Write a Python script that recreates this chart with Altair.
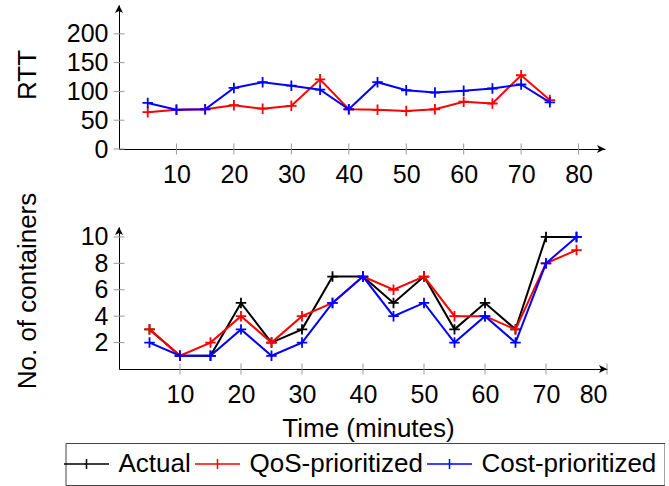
import altair as alt
import pandas as pd

# ---- data ----
time = [5, 10, 15, 20, 25, 30, 35, 40, 45, 50, 55, 60, 65, 70, 75]
rtt_qos = [64, 68, 69, 76, 70, 75, 121, 69, 68, 66, 69, 82, 79, 128, 85]
rtt_cost = [80, 68, 69, 106, 116, 110, 103, 69, 116, 102, 98, 101, 105, 112, 81]
cont_actual = [3, 1, 1, 5, 2, 3, 7, 7, 5, 7, 3, 5, 3, 10, 10]
cont_qos = [3, 1, 2, 4, 2, 4, 5, 7, 6, 7, 4, 4, 3, 8, 9]
cont_cost = [2, 1, 1, 3, 1, 2, 5, 7, 4, 5, 2, 4, 2, 8, 10]

series = ["Actual", "QoS-prioritized", "Cost-prioritized"]
colors = ["#000000", "#ff0000", "#0000ff"]
x_ticks = [10, 20, 30, 40, 50, 60, 70, 80]
rtt_ticks = [0, 50, 100, 150, 200]
cont_ticks = [2, 4, 6, 8, 10]

FONT = "Liberation Sans"
PLUS = "M-1,0L1,0M0,-1L0,1"
LEG_SYM = "M-4.5,0L4.5,0M0,-1L0,1"
VTICK = "M0,-1L0,1"
HTICK = "M-1,0L1,0"
ARROW_R = "M0,0L-2,-1L-1.5,0L-2,1Z"
ARROW_U = "M0,0L-1,2L0,1.5L1,2Z"

color_scale = alt.Scale(domain=series, range=colors)


def long_df(cols):
    rows = []
    for name, vals in cols:
        for t, v in zip(time, vals):
            rows.append({"t": t, "value": v, "series": name})
    return pd.DataFrame(rows)


def panel(cols, xmax, ymax, yticks, width, height, ytitle, title_y, xtitle):
    xs = alt.Scale(domain=[0, xmax], nice=False, zero=True)
    ys = alt.Scale(domain=[0, ymax], nice=False, zero=True)
    if xtitle:
        xaxis = alt.Axis(values=x_ticks, title=xtitle, labelPadding=13,
                         titleX=249, titleY=67, titleBaseline="alphabetic",
                         titleAlign="center")
    else:
        xaxis = alt.Axis(values=x_ticks, title=None, labelPadding=13)
    yaxis = alt.Axis(values=yticks, title=ytitle, labelPadding=11,
                     titleX=-84, titleY=title_y, titleBaseline="alphabetic",
                     titleAlign="center")
    X = alt.X("t:Q", scale=xs, axis=xaxis)
    Y = alt.Y("value:Q", scale=ys, axis=yaxis)

    df = long_df(cols)
    layers = []
    # crossing tick marks
    xt = pd.DataFrame({"t": x_ticks, "value": [0] * len(x_ticks)})
    yt = pd.DataFrame({"t": [0] * len(yticks), "value": yticks})
    layers.append(alt.Chart(xt).mark_point(shape=VTICK, size=121, filled=False,
                                           stroke="#999999", strokeWidth=1, opacity=1)
                  .encode(x=X, y=Y))
    layers.append(alt.Chart(yt).mark_point(shape=HTICK, size=121, filled=False,
                                           stroke="#999999", strokeWidth=1, opacity=1)
                  .encode(x=X, y=Y))
    for name, _ in cols:
        layers.append(
            alt.Chart(df).transform_filter(alt.datum.series == name)
            .mark_line(strokeWidth=2, point=alt.OverlayMarkDef(
                shape=PLUS, size=110, filled=False, strokeWidth=1.8, opacity=1))
            .encode(x=X, y=Y,
                    color=alt.Color("series:N", scale=color_scale,
                                    legend=alt.Legend(title=None)))
        )
    # axis arrow heads
    ar = pd.DataFrame({"t": [xmax], "value": [0]})
    au = pd.DataFrame({"t": [0], "value": [ymax]})
    layers.append(alt.Chart(ar).mark_point(shape=ARROW_R, size=64, filled=True,
                                           color="black", opacity=1).encode(x=X, y=Y))
    layers.append(alt.Chart(au).mark_point(shape=ARROW_U, size=64, filled=True,
                                           color="black", opacity=1).encode(x=X, y=Y))
    return alt.layer(*layers).properties(width=width, height=height)


top = panel([("QoS-prioritized", rtt_qos), ("Cost-prioritized", rtt_cost)],
            84.6, 250, rtt_ticks, 486, 144, "RTT", 69.5, None)
bottom = panel([("Actual", cont_actual), ("QoS-prioritized", cont_qos),
                ("Cost-prioritized", cont_cost)],
               80, 10.75, cont_ticks, 488, 142, "No. of containers", 63.5,
               "Time (minutes)")

chart = (
    alt.vconcat(top, bottom, spacing=78, bounds="flush")
    .properties(padding={"left": 13, "top": 5, "right": 0, "bottom": 0})
    .configure_view(stroke=None)
    .configure_axis(grid=False, ticks=False, tickSize=0, domainColor="black",
                    domainWidth=1, labelFont=FONT, labelFontSize=25,
                    labelColor="black", titleFont=FONT, titleFontSize=26,
                    titleFontWeight="normal", titleColor="black")
    .configure_legend(orient="none", legendX=-53.5, legendY=438,
                      direction="horizontal", strokeColor="#444444",
                      padding=8, labelFont=FONT, labelFontSize=26,
                      labelColor="black", labelOffset=19, columnPadding=0,
                      labelLimit=400, symbolType=LEG_SYM, symbolSize=100,
                      symbolStrokeWidth=1.5, symbolFillColor="transparent")
)

chart.save("out.html", embed_options={"renderer": "svg", "actions": False})
